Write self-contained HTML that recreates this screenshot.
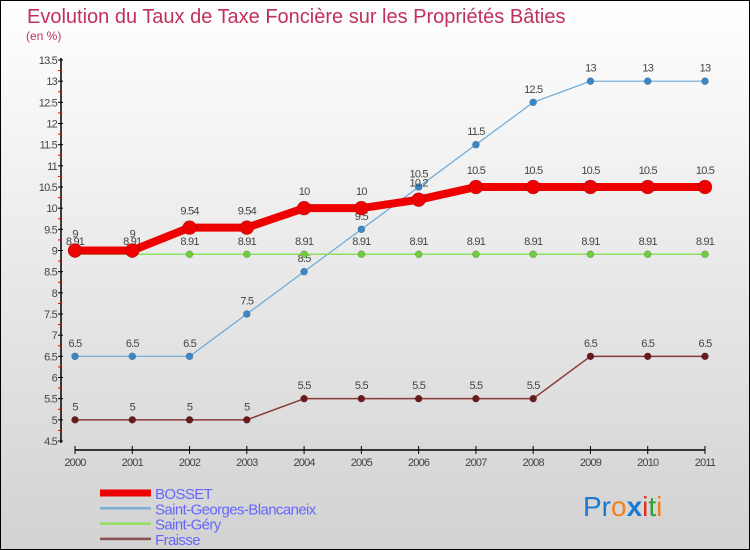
<!DOCTYPE html>
<html><head><meta charset="utf-8"><style>
body{margin:0;width:750px;height:550px;overflow:hidden}
svg{display:block;font-family:"Liberation Sans",sans-serif}
</style></head><body>
<svg width="750" height="550">
<defs><linearGradient id="bg" x1="0" y1="0" x2="0" y2="1"><stop offset="0" stop-color="#ffffff"/><stop offset="1" stop-color="#d2d2d2"/></linearGradient></defs>
<rect x="0.5" y="0.5" width="749" height="549" fill="url(#bg)" stroke="#000"/>
<text x="27" y="23" font-size="20" fill="#c0305a">Evolution du Taux de Taxe Foncière sur les Propriétés Bâties</text>
<text x="26" y="40" font-size="12" fill="#c0305a">(en %)</text>
<g id="axes"></g><g id="series"></g><g id="legend"></g>
<text x="583" y="516" font-size="28" font-family="'Liberation Sans',sans-serif"><tspan fill="#1a7ad0">Pr</tspan><tspan fill="#f08020">o</tspan><tspan fill="#1a7ad0" font-weight="bold">x</tspan><tspan fill="#e03020">i</tspan><tspan fill="#30a030">t</tspan><tspan fill="#f08020">i</tspan></text>
</svg>
<script>
const years=[2000,2001,2002,2003,2004,2005,2006,2007,2008,2009,2010,2011];
const bosset=[9,9,9.54,9.54,10,10,10.2,10.5,10.5,10.5,10.5,10.5];
const sgb=[6.5,6.5,6.5,7.5,8.5,9.5,10.5,11.5,12.5,13,13,13];
const gery=[8.91,8.91,8.91,8.91,8.91,8.91,8.91,8.91,8.91,8.91,8.91,8.91];
const fraisse=[5,5,5,5,5.5,5.5,5.5,5.5,5.5,6.5,6.5,6.5];
const yTicks=[4.5,5,5.5,6,6.5,7,7.5,8,8.5,9,9.5,10,10.5,11,11.5,12,12.5,13,13.5];
const NS="http://www.w3.org/2000/svg";
const X=i=>75+i*(630/11);
const Y=v=>441-(v-4.5)*(381/9);
function mk(t,a,p){const e=document.createElementNS(NS,t);for(const k in a)e.setAttribute(k,a[k]);p.appendChild(e);return e;}
const ax=document.getElementById('axes');
let l=mk('line',{x1:61,y1:58,x2:61,y2:443,stroke:'#000','stroke-width':1.5},ax);


l=mk('line',{x1:75,y1:450,x2:705,y2:450,stroke:'#000','stroke-width':1.5},ax);


yTicks.forEach((v,k)=>{
 mk('line',{x1:58,y1:Y(v),x2:63,y2:Y(v),stroke:'#000'},ax);
 if(k>0) mk('line',{x1:58,y1:Y(v)+10.6,x2:61,y2:Y(v)+10.6,stroke:'#e00'},ax);
 const t=mk('text',{x:57,y:Y(v)+4,'font-size':11,'text-anchor':'end',fill:'#444','letter-spacing':'-0.8'},ax);
 t.textContent=v;
 
 
});
years.forEach((yr,i)=>{
 mk('line',{x1:X(i),y1:446,x2:X(i),y2:454,stroke:'#000'},ax);
 const t=mk('text',{x:X(i),y:466,'font-size':11,'text-anchor':'middle',fill:'#444','letter-spacing':'-0.8'},ax);
 t.textContent=yr;
 
 
});
const sg=document.getElementById('series');
function series(data,name,col,w,r,dot){
 const g=mk('g',{},sg);
 
 
 const pl=mk('polyline',{points:data.map((v,i)=>X(i)+','+Y(v)).join(' '),fill:'none',stroke:col,'stroke-width':w,'stroke-linejoin':'round'},g);
 
 
 data.forEach((v,i)=>{
  const c=mk('circle',{cx:X(i),cy:Y(v),r:r,fill:dot,stroke:'rgba(0,0,0,0.25)','stroke-width':0.6},g);
  
  
  const t=mk('text',{x:X(i),y:Y(v)-(r+6),'font-size':11,'text-anchor':'middle',fill:'#444','letter-spacing':'-0.8'},g);
  t.textContent=v;
  
  
 });
}
series(fraisse,'fraisse','#8b3a3a',1.5,3.5,'#6a1a1a');
series(sgb,'saint-georges-blancaneix','#6aaad8',1.2,3.5,'#3a88c8');
series(gery,'saint-gery','#90e060',1.5,3.5,'#70cc40');
series(bosset,'bosset','#ee0000',8,7,'#ee0000');
const lg=document.getElementById('legend');
[['BOSSET','#ee0000',7],['Saint-Georges-Blancaneix','#7ab0d8',2.5],['Saint-Géry','#90e060',2.5],['Fraisse','#8b5050',2.5]].forEach((d,i)=>{
 const y=493+i*15.3;
 const ln=mk('line',{x1:100,y1:y,x2:151,y2:y,stroke:d[1],'stroke-width':d[2]},lg);
 
 
 const t=mk('text',{x:155,y:y+6,'font-size':15,fill:'#6666ff','letter-spacing':'-0.6'},lg);
 t.textContent=d[0];
 
 
});
</script>
</body></html>
